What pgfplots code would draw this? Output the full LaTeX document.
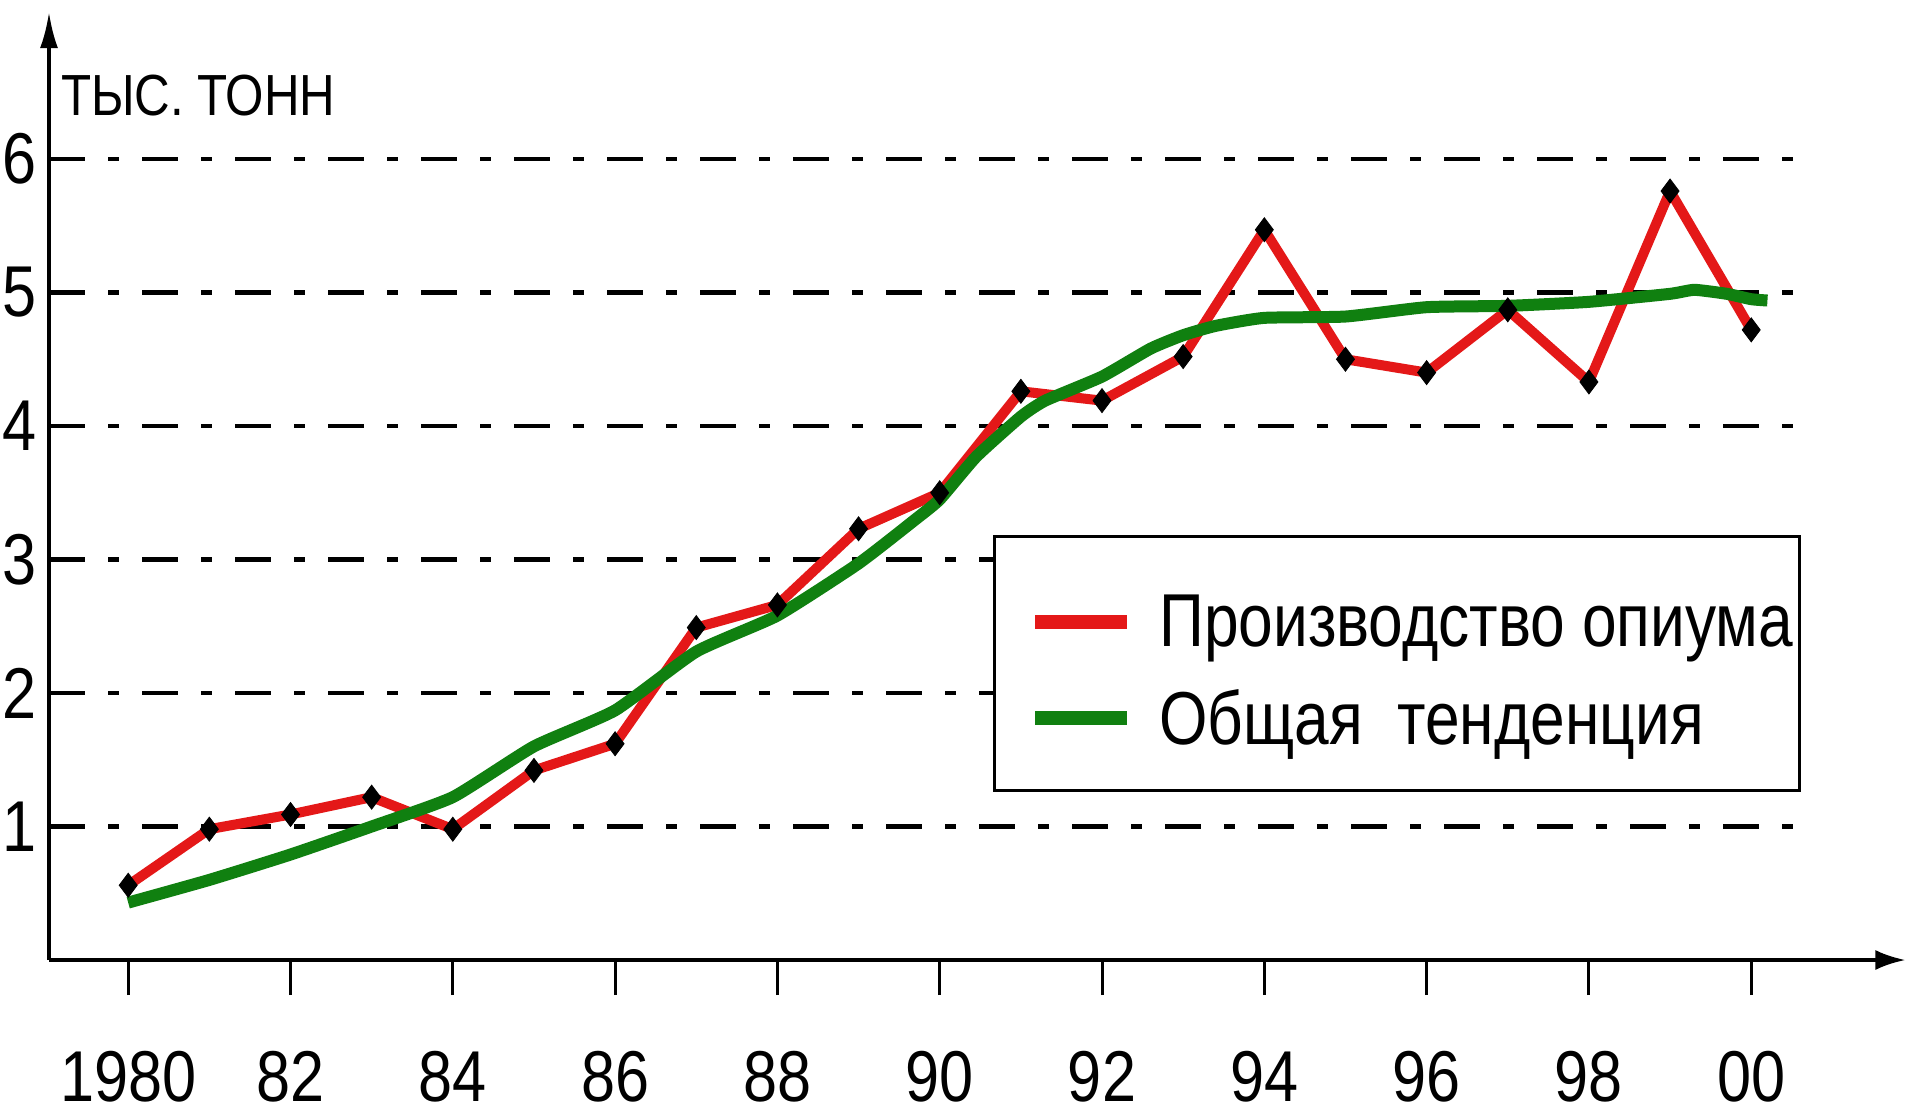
\documentclass[border=0pt]{standalone}
\usepackage{fontspec}
\setmainfont{Liberation Sans}[FakeStretch=0.85]
\newfontfamily\legfont{Liberation Sans}[FakeStretch=0.83]
\usepackage{pgfplots}
\usepackage{pgfplotstable}
\pgfplotsset{compat=1.18}
\usetikzlibrary{arrows.meta}
\definecolor{opred}{RGB}{228,24,24}
\definecolor{opgreen}{RGB}{16,128,16}

\pgfplotstableread{
year prod
1980 0.56
1981 0.98
1982 1.09
1983 1.22
1984 0.98
1985 1.42
1986 1.62
1987 2.49
1988 2.66
1989 3.23
1990 3.50
1991 4.26
1992 4.19
1993 4.52
1994 5.47
1995 4.50
1996 4.40
1997 4.87
1998 4.33
1999 5.76
2000 4.72
}\prodtable

\pgfplotstableread{
year trend
1980 0.43
1981 0.60
1982 0.79
1983 1.00
1984 1.22
1985 1.60
1986 1.87
1987 2.31
1988 2.58
1989 2.97
1989.7 3.30
1990 3.45
1990.45 3.77
1991 4.07
1991.3 4.19
1992 4.37
1992.6 4.58
1993 4.68
1993.4 4.75
1994 4.81
1995 4.82
1996 4.89
1997 4.90
1998 4.93
1999 4.99
1999.3 5.02
1999.7 4.99
2000 4.95
2000.2 4.94
}\trendtable

\begin{document}
\begin{tikzpicture}
\begin{axis}[
  x=40.575pt, y=66.75pt,
  xmin=1979.024, xmax=2001.9, ymin=0, ymax=7.1,
  axis lines=left,
  axis line style={line width=1.8pt, black},
  x axis line style={-{Latex[length=15pt,width=10pt]}},
  y axis line style={-{Latex[length=18pt,width=9pt]}},
  xtick={1980,1982,...,2000},
  xticklabels={1980,82,84,86,88,90,92,94,96,98,00},
  ytick={1,2,3,4,5,6},
  tick align=outside,
  major tick length=17.5pt,
  xtick style={line width=1.5pt, black},
  ytick style={draw=none},
  /pgf/number format/assume math mode=true,
  ticklabel style={font=\fontsize{36}{40}\selectfont},
  xticklabel style={anchor=north, inner sep=0pt, yshift=-28pt},
  yticklabel style={anchor=east, inner sep=0pt, xshift=11.5pt},
  ylabel={ТЫС. ТОНН},
  every axis y label/.style={at={(rel axis cs:0,0.891)}, anchor=base west, xshift=2.5pt, font=\fontsize{29}{34}\selectfont},
  legend style={at={(0.5095,0.3049)}, anchor=west, draw=none, fill=none,
    inner xsep=16.5pt, inner ysep=0pt, row sep=16pt,
    font=\legfont\fontsize{37.5}{44}\selectfont,
    nodes={inner sep=2pt, text depth=0.15em}},
  legend cell align=left,
  legend image code/.code={\draw[#1, line width=7pt] (0pt,0pt) -- (46pt,0pt);
    \path[draw=none, fill=none] (0pt,0pt) -- (60pt,0pt);},
  clip=false,
]
\coordinate (O) at (axis cs:1979.024,0);
\pgfplotsinvokeforeach{1,2,3,4,5,6}{
  \draw[black, line width=2.2pt, dash pattern=on 18pt off 11.5pt on 5.5pt off 11.5pt]
    (axis cs:1979.024,#1) -- (axis cs:2000.54,#1);
}
\draw[black, line width=1.6pt, fill=white] (axis cs:1990.68,1.27) rectangle (axis cs:2000.59,3.17);
\addplot[opred, line width=5pt, mark=none] table[x=year, y=prod] {\prodtable};
\addplot[opgreen, line width=6pt, smooth, tension=0.3, mark=none] table[x=year, y=trend] {\trendtable};
\addplot[only marks, mark=diamond*, mark size=6pt, mark options={draw=black, fill=black, line width=0.4pt}, forget plot] table[x=year, y=prod] {\prodtable};
\legend{Производство опиума, Общая\ \ тенденция}
\end{axis}
\pgfresetboundingbox
\path[use as bounding box] ([shift={(-24.5pt,-74.5pt)}]O) rectangle ([shift={(933pt,480pt)}]O);
\end{tikzpicture}
\end{document}
